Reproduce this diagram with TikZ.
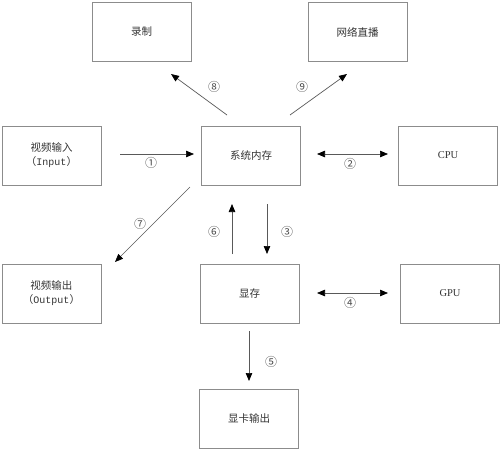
\documentclass[tikz,border=0pt]{standalone}
\usepackage{fontspec}
\setmainfont{Noto Sans CJK SC}
\newfontfamily\latinserif{Liberation Serif}
\newfontfamily\latinmono{Liberation Mono}
\usetikzlibrary{arrows.meta}
\tikzset{
  tipk/.tip={Triangle[length=8pt,width=6.5pt,color=black]},
  box/.style={draw=black!45, line width=0.8pt, minimum width=99pt, minimum height=59pt, inner sep=0pt, align=center, font=\fontsize{10.5}{14}\selectfont, text=black!80},
  conn/.style={draw=black!65, line width=0.7pt, -tipk},
  dconn/.style={draw=black!65, line width=0.7pt, tipk-tipk},
  num/.style={font=\fontsize{12}{12}\selectfont, text=black!70, inner sep=0pt}
}
\begin{document}
\begin{tikzpicture}[x=1pt,y=-1pt]
\useasboundingbox (0,0) rectangle (501,450);
% boxes
\node[box] (rec) at (141.5,32) {录制};
\node[box] (live) at (357.5,32) {网络直播};
\node[box] (vin) at (51.5,155.5) {视频输入\\（{\latinmono\fontsize{10}{14}\selectfont Input}）};
\node[box] (sys) at (251,155.5) {系统内存};
\node[box] (cpu) at (448,155.5) {\latinserif CPU};
\node[box] (vout) at (51.5,293.5) {视频输出\\（{\latinmono\fontsize{10}{14}\selectfont Output}）};
\node[box] (vram) at (249.5,293.5) {显存};
\node[box] (gpu) at (450,293.5) {\latinserif GPU};
\node[box] (card) at (249,418.5) {显卡输出};
% coordinates
\coordinate (a1s) at (120,154); \coordinate (a1e) at (194,154);
\coordinate (a2s) at (317,154); \coordinate (a2e) at (388,154);
\coordinate (a4s) at (317,293); \coordinate (a4e) at (388,293);
\coordinate (a3s) at (267,204); \coordinate (a3e) at (267,254);
\coordinate (a6s) at (232,254); \coordinate (a6e) at (232,204);
\coordinate (a7s) at (190,187); \coordinate (a7e) at (115,262);
\coordinate (a5s) at (249,331); \coordinate (a5e) at (249,381);
\coordinate (a8s) at (227,115); \coordinate (a8e) at (171,74);
\coordinate (a9s) at (290,115); \coordinate (a9e) at (347,74);
% connectors
\draw[conn] (a1s) -- (a1e);
\draw[dconn] (a2s) -- (a2e);
\draw[dconn] (a4s) -- (a4e);
\draw[conn] (a3s) -- (a3e);
\draw[conn] (a6s) -- (a6e);
\draw[conn] (a7s) -- (a7e);
\draw[conn] (a5s) -- (a5e);
\draw[conn] (a8s) -- (a8e);
\draw[conn] (a9s) -- (a9e);
% labels
\node[num] (n1) at (151,163) {①};
\node[num] (n2) at (350,164) {②};
\node[num] (n3) at (287,232) {③};
\node[num] (n4) at (350,303) {④};
\node[num] (n5) at (271,362) {⑤};
\node[num] (n6) at (214,232) {⑥};
\node[num] (n7) at (140,224) {⑦};
\node[num] (n8) at (214,87) {⑧};
\node[num] (n9) at (302,87) {⑨};
\end{tikzpicture}
\end{document}
